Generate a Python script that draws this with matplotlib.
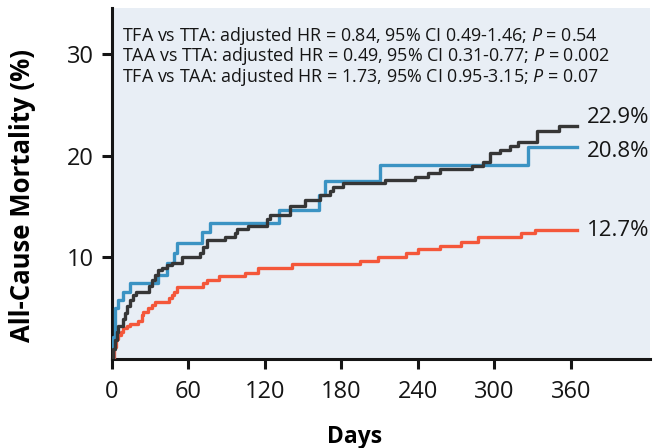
import matplotlib
matplotlib.use('Agg')

import matplotlib.pyplot as plt

plt.rcParams['font.family'] = ['Open Sans', 'DejaVu Sans']
plt.rcParams['mathtext.fontset'] = 'custom'
plt.rcParams['mathtext.rm'] = 'Open Sans'
plt.rcParams['mathtext.it'] = 'Open Sans:italic'

# Kaplan-Meier style step data (days, cumulative mortality %)
tta_days = [0, 1, 2.35, 3.7, 5, 8.9, 10.2, 11.5, 14.1, 16.7, 18.8, 29.3, 31.1, 33.7, 36.3,
            39, 42.9, 46.8, 54.6, 69, 71.6, 74.3, 88.6, 96.5, 97.8, 107, 121.3, 124, 139.6,
            151.4, 163, 171, 173.5, 181.4, 214, 237.6, 248, 257, 282, 291, 296.5, 304, 312,
            318.7, 333, 351, 365]
tta_pct = [0, 1.0, 1.85, 2.7, 3.2, 3.9, 4.5, 5.2, 5.8, 6.3, 6.6, 7.2, 7.8, 8.3, 8.75,
           8.9, 9.2, 9.4, 10.0, 10.4, 11.05, 11.7, 12.0, 12.4, 12.75, 13.1, 13.8, 14.2, 15.0,
           15.6, 16.1, 16.5, 16.9, 17.3, 17.6, 17.9, 18.3, 18.65, 19.0, 19.4, 20.2, 20.55, 20.9,
           21.3, 22.4, 22.9, 22.9]

tfa_days = [0, 1, 2.3, 5, 9, 14, 36.3, 43, 49, 51, 70.3, 76.9, 131, 162, 167, 210, 326, 365]
tfa_pct = [0, 2.2, 5.0, 5.8, 6.6, 7.5, 8.3, 9.4, 10.4, 11.4, 12.5, 13.4, 14.65, 16.1, 17.5,
           19.1, 20.8, 20.8]

taa_days = [0, 1.6, 3.1, 5, 6.8, 8.9, 11.5, 14.1, 20.6, 23.3, 24.6, 28.5, 31.1, 33.7, 45,
            46.8, 48.6, 50.7, 71.6, 74.8, 84.2, 104.3, 114.8, 141.5, 194.5, 208.9, 231, 240,
            257, 274, 287, 321, 331.8, 365]
taa_pct = [0, 1.2, 2.0, 2.35, 2.7, 3.0, 3.25, 3.45, 3.7, 4.3, 4.65, 5.0, 5.3, 5.6, 6.0,
           6.3, 6.6, 7.1, 7.5, 7.8, 8.15, 8.5, 8.9, 9.3, 9.6, 10.05, 10.4, 10.8,
           11.1, 11.5, 12.0, 12.4, 12.7, 12.7]

end_labels = ['22.9%', '20.8%', '12.7%']
label_offsets = [0.8, -0.45, -0.05]

hr_lines = [
    'TFA vs TTA: adjusted HR = 0.84, 95% CI 0.49-1.46; $\\mathit{P}$ = 0.54',
    'TAA vs TTA: adjusted HR = 0.49, 95% CI 0.31-0.77; $\\mathit{P}$ = 0.002',
    'TFA vs TAA: adjusted HR = 1.73, 95% CI 0.95-3.15; $\\mathit{P}$ = 0.07',
]

x_ticks = [0, 60, 120, 180, 240, 300, 360]
y_ticks = [10, 20, 30]

colors = {'tta': '#363636', 'tfa': '#3b93c3', 'taa': '#f4573a'}
ink = '#151515'

fig = plt.figure(figsize=(6.53, 4.48), dpi=100)
ax = fig.add_axes([0.1715, 0.1987, 0.8239, 0.7834])
ax.set_facecolor('#e8eef5')

ax.step(taa_days, taa_pct, where='post', color=colors['taa'], lw=2.4, zorder=3)
ax.step(tfa_days, tfa_pct, where='post', color=colors['tfa'], lw=2.4, zorder=4)
ax.step(tta_days, tta_pct, where='post', color=colors['tta'], lw=2.4, zorder=5)

finals = [tta_pct[-1], tfa_pct[-1], taa_pct[-1]]
for lab, val, off in zip(end_labels, finals, label_offsets):
    ax.text(372.5, val + off, lab, fontsize=16, va='center', ha='left', color=ink)

for i, line in enumerate(hr_lines):
    ax.text(7.8, 31.76 - i * 2.0, line, fontsize=12.9, va='center', ha='left', color=ink)

ax.set_xlim(0, 422)
ax.set_ylim(0, 34.5)
ax.set_xticks(x_ticks)
ax.set_yticks(y_ticks)

for s in ['top', 'right']:
    ax.spines[s].set_visible(False)
for s in ['left', 'bottom']:
    ax.spines[s].set_linewidth(2.2)
    ax.spines[s].set_color(ink)

ax.tick_params(axis='both', length=7, width=2.2, color=ink, labelsize=17, labelcolor=ink)
ax.tick_params(axis='x', pad=8)
ax.tick_params(axis='y', pad=6)

ax.set_ylabel('All-Cause Mortality (%)', fontsize=18.5, fontweight='bold', va='center')
ax.yaxis.set_label_coords(-0.167, 0.467)
ax.set_xlabel('Days', fontsize=16.5, fontweight='bold', va='center')
ax.xaxis.set_label_coords(0.45, -0.222)

plt.savefig('out.png', dpi=100)
plt.close()
